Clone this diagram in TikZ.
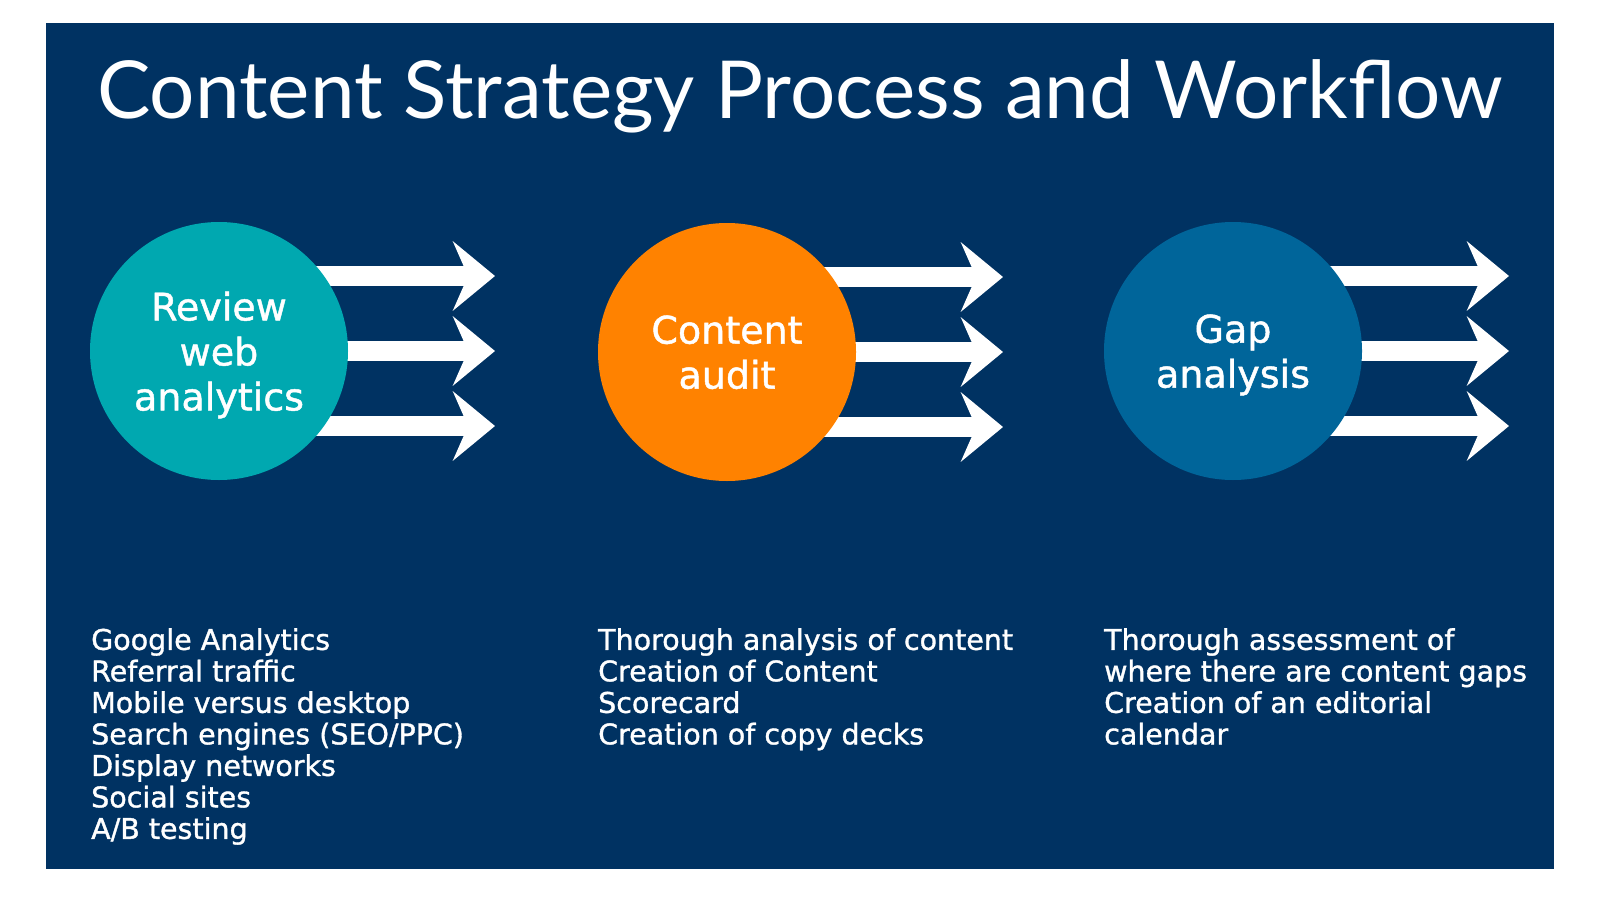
\documentclass[tikz,border=0pt]{standalone}
\usepackage{fontspec}
\setmainfont{DejaVu Sans}[FakeBold=1.2]
\newfontfamily\titlefont{Lato}
\usepackage{tikz}
\usetikzlibrary{positioning,arrows.meta,calc,backgrounds}

\definecolor{navybg}{RGB}{0,50,98}
\definecolor{tealfill}{RGB}{0,168,176}
\definecolor{orangefill}{RGB}{255,130,0}
\definecolor{bluefill}{RGB}{0,101,154}

\begin{document}
\begin{tikzpicture}[x=1pt,y=-1pt,
  phase/.style={circle,fill=#1,minimum size=258pt,inner sep=0pt,align=center,text=white,text depth=-5pt,font=\fontsize{38}{45}\selectfont},
  notes/.style={anchor=north west,align=left,text=white,inner sep=0pt,font=\fontsize{28.5}{31.5}\selectfont},
  flow/.style={-{Stealth[length=42pt,width=69pt,inset=15pt]},white,line width=20pt},
  heading/.style={anchor=base,text=white,inner sep=0pt,font=\titlefont\fontsize{80}{90}\selectfont},
]
\useasboundingbox (0,0) rectangle (1600,899);

% Title
\node[heading] (title) at (800,118) {Content Strategy Process and Workflow};

% Phase circles
\node[phase=tealfill]   (c1) at (219,351) {Review\\web\\analytics};
\node[phase=orangefill] (c2) at (727,352) {Content\\audit};
\node[phase=bluefill]   (c3) at (1233,351) {Gap\\analysis};

% Details under each phase
\node[notes] (n1) at (91,628) {Google Analytics\\Referral traffic\\Mobile versus desktop\\Search engines (SEO/PPC)\\Display networks\\Social sites\\A/B testing};
\node[notes] (n2) at (598,628) {Thorough analysis of content\\Creation of Content\\Scorecard\\Creation of copy decks};
\node[notes] (n3) at (1104,628) {Thorough assessment of\\where there are content gaps\\Creation of an editorial\\calendar};

% Background panel and arrows behind the circles
\begin{scope}[on background layer]
\fill[navybg] (46,23) rectangle (1554,869);
\foreach \p in {c1,c2,c3}{
  \foreach \dy [count=\i] in {-75,0,75}{
    \coordinate (\p tip\i) at ($(\p.center)+(276,\dy)$);
    \draw[flow] (\p.center|-\p tip\i) -- (\p tip\i);
  }
}
\end{scope}

\end{tikzpicture}
\end{document}
